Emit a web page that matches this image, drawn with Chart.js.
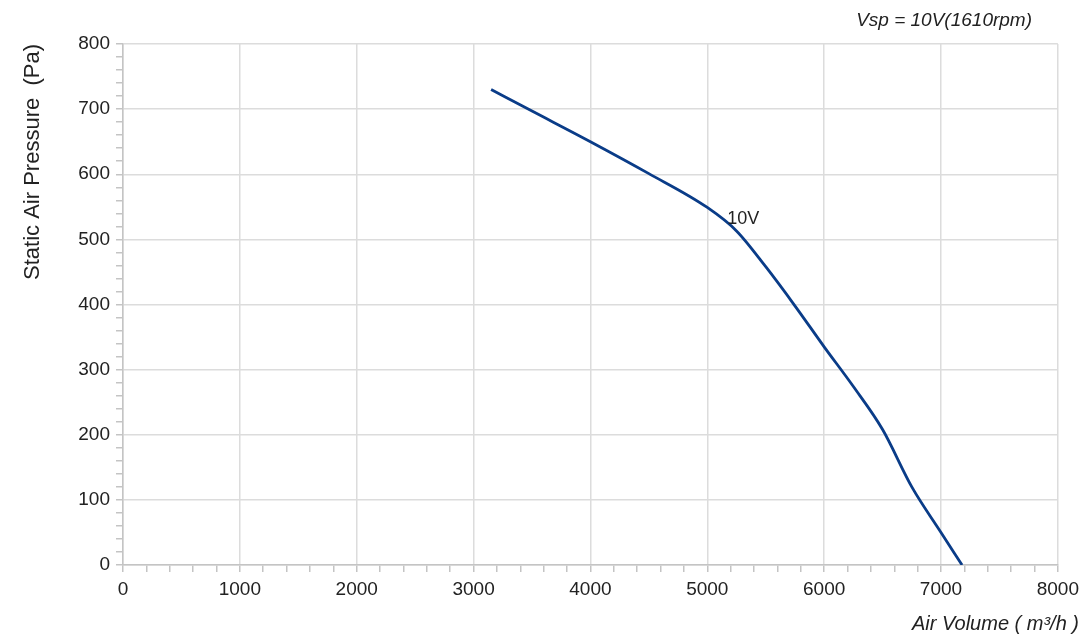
<!DOCTYPE html>
<html>
<head>
<meta charset="utf-8">
<script src="https://cdn.jsdelivr.net/npm/chart.js@4.4.1/dist/chart.umd.min.js"></script>
<style>
  html, body { margin: 0; padding: 0; background: #fff; }
  #wrap { width: 1085px; height: 635px; }
</style>
</head>
<body>
<div id="wrap"><canvas id="fanChart" width="1085" height="635"></canvas></div>
<script>
// fan curve
const airVolume = [3150, 3500, 4000, 4500, 5000, 5250, 5500, 5750, 6000, 6250, 6500, 6750, 7000, 7180];
const staticPressure = [730, 697, 650, 601, 549, 513, 458, 398, 335, 274, 208, 120, 50, 0];
const curveLabel = "10V";
const speedNote = "Vsp = 10V(1610rpm)";
const xTitle = "Air Volume ( m\u00b3/h )";
const yTitle = "Static Air Pressure  (Pa)";

const gridGray = "#dcdcdc";
const tickGray = "#c4c4c4";
const font = "'Liberation Sans', Arial, sans-serif";

// texts that sit outside the scale boxes
const extraText = {
    id: "extraText",
    afterDraw(chart) {
        const ctx = chart.ctx;
        const { x, y } = chart.scales;
        ctx.save();
        ctx.fillStyle = "#222";
        ctx.textAlign = "right";
        ctx.textBaseline = "alphabetic";
        ctx.font = "italic 19px " + font;
        ctx.fillText(speedNote, 1032, 26);
        ctx.font = "italic 20px " + font;
        ctx.fillText(xTitle, 1079, 630);
        ctx.textAlign = "left";
        ctx.font = "18px " + font;
        ctx.fillText(curveLabel, x.getPixelForValue(5170), y.getPixelForValue(530) + 4);
        ctx.restore();
    }
};

new Chart(document.getElementById("fanChart"), {
    type: "line",
    data: {
        datasets: [{
            label: curveLabel,
            data: airVolume.map((v, i) => ({ x: v, y: staticPressure[i] })),
            borderColor: "#0a3c88",
            borderWidth: 2.8,
            pointRadius: 0,
            cubicInterpolationMode: "monotone",
            fill: false
        }]
    },
    options: {
        responsive: false,
        animation: false,
        layout: { padding: { top: 44, right: 25, bottom: 0, left: 0 } },
        plugins: { legend: { display: false }, tooltip: { enabled: false } },
        scales: {
            x: {
                type: "linear",
                min: 0, max: 8000,
                afterFit: s => { s.height = 70; },
                border: { color: tickGray, width: 1.5 },
                grid: {
                    color: c => c.tick && c.tick.value % 1000 === 0 ? gridGray : "rgba(0,0,0,0)",
                    lineWidth: 1.5,
                    tickColor: tickGray,
                    tickLength: 7
                },
                ticks: {
                    stepSize: 200,
                    autoSkip: false,
                    maxRotation: 0,
                    padding: 6,
                    color: "#222",
                    font: { family: font, size: 19 },
                    callback: v => v % 1000 === 0 ? v : ""
                }
            },
            y: {
                min: 0, max: 800,
                afterFit: s => { s.width = 123; },
                border: { color: tickGray, width: 1.5 },
                grid: {
                    color: c => c.tick && c.tick.value % 100 === 0 ? gridGray : "rgba(0,0,0,0)",
                    lineWidth: 1.5,
                    tickColor: tickGray,
                    tickLength: 7
                },
                ticks: {
                    stepSize: 20,
                    autoSkip: false,
                    padding: 6,
                    color: "#222",
                    font: { family: font, size: 19 },
                    callback: v => v % 100 === 0 ? v : ""
                },
                title: {
                    display: true,
                    text: yTitle,
                    align: "end",
                    color: "#222",
                    padding: { top: 20, bottom: 0 },
                    font: { family: font, size: 22 }
                }
            }
        }
    },
    plugins: [extraText]
});
</script>
</body>
</html>
